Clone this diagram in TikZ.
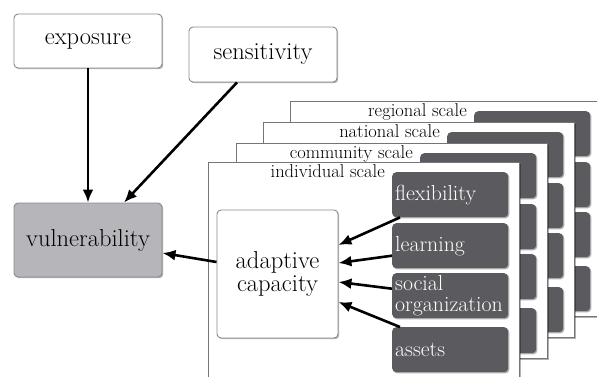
\documentclass[tikz,border=0pt]{standalone}
\usetikzlibrary{shadows,calc,arrows.meta}
\definecolor{darkbox}{HTML}{5B5B5F}
\definecolor{vulfill}{HTML}{B6B6BA}
\definecolor{edgegray}{HTML}{8A8A8E}
\tikzset{
  shad/.style={drop shadow={shadow xshift=1.2pt, shadow yshift=-1.2pt, opacity=0.3, fill=black}},
  lightbox/.style={draw=edgegray, line width=0.9pt, rounded corners=4pt, fill=white, shad,
    inner sep=0pt, font=\rmfamily\fontsize{24.5}{23}\selectfont, align=center},
  vulbox/.style={lightbox, fill=vulfill},
  framebox/.style={draw=edgegray!85!black, line width=0.9pt, fill=white, shad,
    minimum height=215pt, inner sep=0pt},
  darkbx/.style={fill=darkbox, rounded corners=4pt, shad, text=white,
    minimum width=114pt, minimum height=45pt, inner xsep=3pt, inner ysep=0pt,
    text width=110pt, align=left, font=\rmfamily\fontsize{21.8}{21}\selectfont},
  plaintext/.style={text=white, inner xsep=3pt, inner ysep=0pt,
    minimum width=114pt, minimum height=45pt,
    text width=110pt, align=left, font=\rmfamily\fontsize{21.8}{21}\selectfont},
  scalelab/.style={font=\rmfamily\fontsize{18.5}{18}\selectfont, inner sep=0pt},
  conn/.style={line width=2.6pt, -{Latex[length=13pt,width=11pt]}},
}
\begin{document}
\begin{tikzpicture}[x=1pt,y=-1pt]
\useasboundingbox (0,0) rectangle (597,376);
\clip (0,0) rectangle (597,376);
% top-left boxes
\node[lightbox, minimum width=148pt, minimum height=54pt] (exp) at (88,41) {exposure};
\node[lightbox, minimum width=148pt, minimum height=55pt] (sens) at (263,54.5) {sensitivity};
\node[vulbox, minimum width=148pt, minimum height=74pt] (vul) at (88,240) {vulnerability};
% stacked scale frames, back to front
\foreach \n/\x/\y/\w/\lab in {3/290/101/330/regional scale, 2/263/122/311/national scale, 1/236/143/311/community scale, 0/208/162/311/individual scale}{
  \node[framebox, anchor=north west, minimum width=\w pt] (f\n) at (\x,\y) {};
  \node[scalelab, anchor=base east] (l\n) at ($(f\n.north west)+(177,15)$) {\lab};
  \node[darkbx, anchor=north west] (a\n) at ($(f\n.north west)+(184,10)$) {};
  \node[darkbx, anchor=north west] (b\n) at ($(f\n.north west)+(184,61)$) {};
  \node[darkbx, anchor=north west] (c\n) at ($(f\n.north west)+(184,111)$) {};
  \node[darkbx, anchor=north west] (d\n) at ($(f\n.north west)+(184,165)$) {};
}
% texts of the front frame boxes
\node[plaintext, anchor=north west] (flex) at (a0.north west) {flexibility};
\node[plaintext, anchor=north west] (learn) at (b0.north west) {learning};
\node[plaintext, anchor=north west] (soc) at (c0.north west) {social\\organization};
\node[plaintext, anchor=north west] (ass) at (d0.north west) {assets};
% adaptive capacity
\node[lightbox, minimum width=121pt, minimum height=128pt] (ac) at (277.5,274) {adaptive\\capacity};
% connectors
\draw[conn] (exp.south) -- (vul.north);
\draw[conn] ([xshift=-26pt]sens.south) -- ([xshift=36pt]vul.north);
\draw[conn] ([yshift=12pt]ac.west) -- ([yshift=-13pt]vul.east);
\draw[conn] ([xshift=8pt]flex.south west) -- ([yshift=29pt]ac.east);
\draw[conn] ([yshift=-10pt]learn.west) -- ([yshift=11pt]ac.east);
\draw[conn] ([yshift=7pt]soc.west) -- ([yshift=-8pt]ac.east);
\draw[conn] ([xshift=8pt]ass.north west) -- ([yshift=-28pt]ac.east);
\end{tikzpicture}
\end{document}
